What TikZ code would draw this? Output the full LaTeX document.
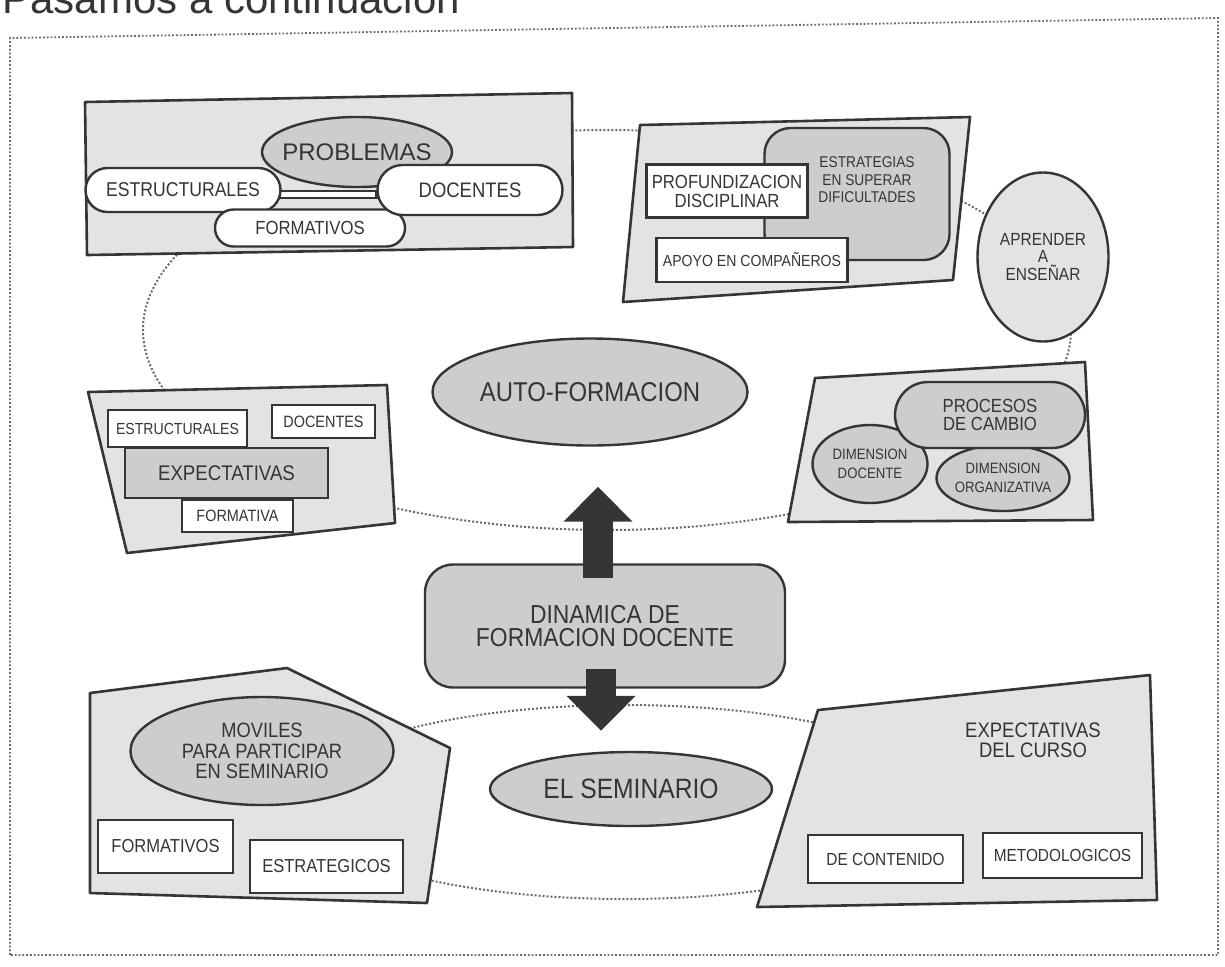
\documentclass[tikz,border=0pt]{standalone}
\usepackage{fontspec}
\setmainfont{Liberation Sans}[FakeStretch=0.88]
\newfontfamily\widefont{Liberation Sans}
\usepackage{tikz}
\usetikzlibrary{calc,shapes.geometric,arrows.meta}

\definecolor{ink}{HTML}{353535}
\definecolor{paper}{HTML}{E3E3E3}
\definecolor{shade}{HTML}{CDCDCD}
\definecolor{dots}{HTML}{6A6A6A}

\def\drawpanel{\filldraw[draw=ink,fill=paper,line width=1.3pt,line join=round]}
\def\dotloop{\node[ellipse,draw=dots,densely dotted,line width=1pt]}
\def\fsz#1#2{\fontsize{#1}{#2}\selectfont}

\begin{document}
\begin{tikzpicture}[x=0.5pt,y=-0.5pt,
  every node/.style={text=ink,align=center,inner sep=0pt},
  whitebox/.style={draw=ink,fill=white,line width=1.2pt},
  greybox/.style={draw=ink,fill=shade,line width=1.2pt},
  bigarrow/.style={draw=ink,line width=15pt,-{Triangle[width=33.5pt,length=17.5pt]}}]
\useasboundingbox (0,0) rectangle (1225,966);

% the line of text above the figure, cut by the page
\node[anchor=base west,font=\widefont\fsz{21}{21}] (intro) at (2,13) {Pasamos a continuación};

% the two dotted rings that tie the panels together
\dotloop (uploop) [minimum width=464pt,minimum height=200pt] at (607,330) {};
\dotloop (lowloop) [minimum width=330pt,minimum height=97pt] at (625,802) {};

% outer frame
\draw[dots,densely dotted,line width=0.9pt] (10,955) -- (10,38) -- (1218,18) -- (1218,955) -- cycle;

% -------- PROBLEMAS ---------
\drawpanel (85,102) -- (572,93) -- (573,247) -- (87,255) -- cycle;
\node[greybox,ellipse,inner xsep=-4pt,minimum width=95pt,minimum height=35pt,font=\widefont\fsz{12}{12}] (prob) at (357,152) {PROBLEMAS};
\node[whitebox,minimum width=48.5pt,minimum height=3.5pt] (probbar) at (328,194.5) {};
\node[whitebox,rounded corners=11pt,minimum width=97.5pt,minimum height=22pt,font=\fsz{10}{10}] (pestr) at (183,190) {ESTRUCTURALES};
\node[whitebox,rounded corners=9.25pt,minimum width=95pt,minimum height=18.5pt,font=\fsz{9.5}{9.5}] (pform) at (310,228) {FORMATIVOS};
\node[whitebox,rounded corners=12.5pt,minimum width=92.5pt,minimum height=25pt,font=\fsz{10.5}{10.5}] (pdoc) at (470,190) {DOCENTES};
% ------ end PROBLEMAS ------

% -------- ESTRATEGIAS (top right) ---------
\drawpanel (640,125) -- (970,117) -- (953,280) -- (623,302) -- cycle;
\node[greybox,rounded corners=13pt,minimum width=92.5pt,minimum height=66pt] (strat) at (857,194) {};
\node[font=\fsz{7.8}{8.7}] (strattext) at ($ (strat) + (10,-14) $) {ESTRATEGIAS\\EN SUPERAR\\DIFICULTADES};
\node[whitebox,minimum width=80.5pt,minimum height=26.5pt,font=\fsz{9.5}{9.5}] (profund) at (727,191) {PROFUNDIZACION\\DISCIPLINAR};
\node[whitebox,minimum width=95.5pt,minimum height=22pt,font=\fsz{8}{8}] (apoyo) at (752,260) {APOYO EN COMPAÑEROS};
% ------ end ESTRATEGIAS ------

\node[ellipse,draw=ink,fill=paper,line width=1.2pt,minimum width=65.5pt,minimum height=84.5pt,font=\fsz{8.8}{8.8}] (aprender) at (1043,257) {APRENDER\\A\\ENSEÑAR};

% -------- PROCESOS DE CAMBIO ---------
\drawpanel (815,378) -- (1085,362) -- (1093,520) -- (788,522) -- cycle;
\node[greybox,ellipse,minimum width=57.5pt,minimum height=39pt,font=\fsz{7.5}{9.5}] (dimdoc) at (870,464) {DIMENSION\\DOCENTE};
\node[greybox,ellipse,inner xsep=-1.5pt,minimum width=66.5pt,minimum height=33pt,font=\fsz{7.5}{9.5}] (dimorg) at (1003,478) {DIMENSION\\ORGANIZATIVA};
\node[greybox,rounded corners=16.5pt,minimum width=95pt,minimum height=33pt,font=\fsz{9.5}{9}] (procesos) at (990,415) {PROCESOS\\DE CAMBIO};
% ------ end PROCESOS ------

% -------- EXPECTATIVAS (left) ---------
\drawpanel (88,392) -- (387,385) -- (395,523) -- (127,553) -- cycle;
\node[whitebox,minimum width=69.5pt,minimum height=18.5pt,font=\fsz{8}{8}] (eestr) at (177.5,428.5) {ESTRUCTURALES};
\node[whitebox,minimum width=51.5pt,minimum height=16.5pt,font=\fsz{8.2}{8.2}] (edoc) at (323.5,421.5) {DOCENTES};
\node[greybox,minimum width=101.5pt,minimum height=25pt,font=\fsz{10.6}{10.6}] (expect) at (226.5,473) {EXPECTATIVAS};
\node[whitebox,minimum width=55.5pt,minimum height=16pt,font=\fsz{8.2}{8.2}] (eform) at (237.5,516) {FORMATIVA};
% ------ end EXPECTATIVAS ------

% -------- centre column ---------
\node[greybox,ellipse,minimum width=157.5pt,minimum height=53.5pt,font=\fsz{13.6}{13.6}] (auto) at (590,392) {AUTO-FORMACION};
\node[greybox,rounded corners=14pt,minimum width=180pt,minimum height=61.5pt,font=\fsz{13}{11.5}] (dyn) at (605,626) {DINAMICA DE\\FORMACION DOCENTE};
\node[greybox,ellipse,minimum width=141pt,minimum height=37pt,font=\fsz{14}{14}] (sem) at (631,789) {EL SEMINARIO};

% -------- MOVILES ---------
\drawpanel (90,693) -- (287,668) -- (450,748) -- (427,903) -- (90,893) -- cycle;
\node[greybox,ellipse,minimum width=131.5pt,minimum height=54pt,font=\fsz{10.4}{10.4}] (moviles) at (262,751) {MOVILES\\PARA PARTICIPAR\\EN SEMINARIO};
\node[whitebox,minimum width=67.5pt,minimum height=26.5pt,font=\fsz{9.4}{9.4}] (mform) at (165.5,846.5) {FORMATIVOS};
\node[whitebox,minimum width=76.5pt,minimum height=26.5pt,font=\fsz{9.4}{9.4}] (mestr) at (326.5,866.5) {ESTRATEGICOS};
% ------ end MOVILES ------

% -------- EXPECTATIVAS DEL CURSO ---------
\drawpanel (818,710) -- (1150,675) -- (1157,900) -- (757,907) -- cycle;
\node[font=\fsz{10.5}{10}] (curso) at (1033,740) {EXPECTATIVAS\\DEL CURSO};
\node[whitebox,minimum width=77.5pt,minimum height=24pt,font=\fsz{8.75}{8.75}] (contenido) at (885.5,859) {DE CONTENIDO};
\node[whitebox,minimum width=79.5pt,minimum height=22.5pt,font=\fsz{8.75}{8.75}] (metodo) at (1062.5,855.5) {METODOLOGICOS};
% ------ end CURSO ------

% the two block arrows out of the centre box
\draw[bigarrow] ($ (dyn.north) + (-7,15) $) -- ($ (auto.south) + (8,40) $);
\draw[bigarrow] ($ (dyn.south) + (-4,-20) $) -- ($ (sem.north) + (-30,-20) $);
\end{tikzpicture}
\end{document}
